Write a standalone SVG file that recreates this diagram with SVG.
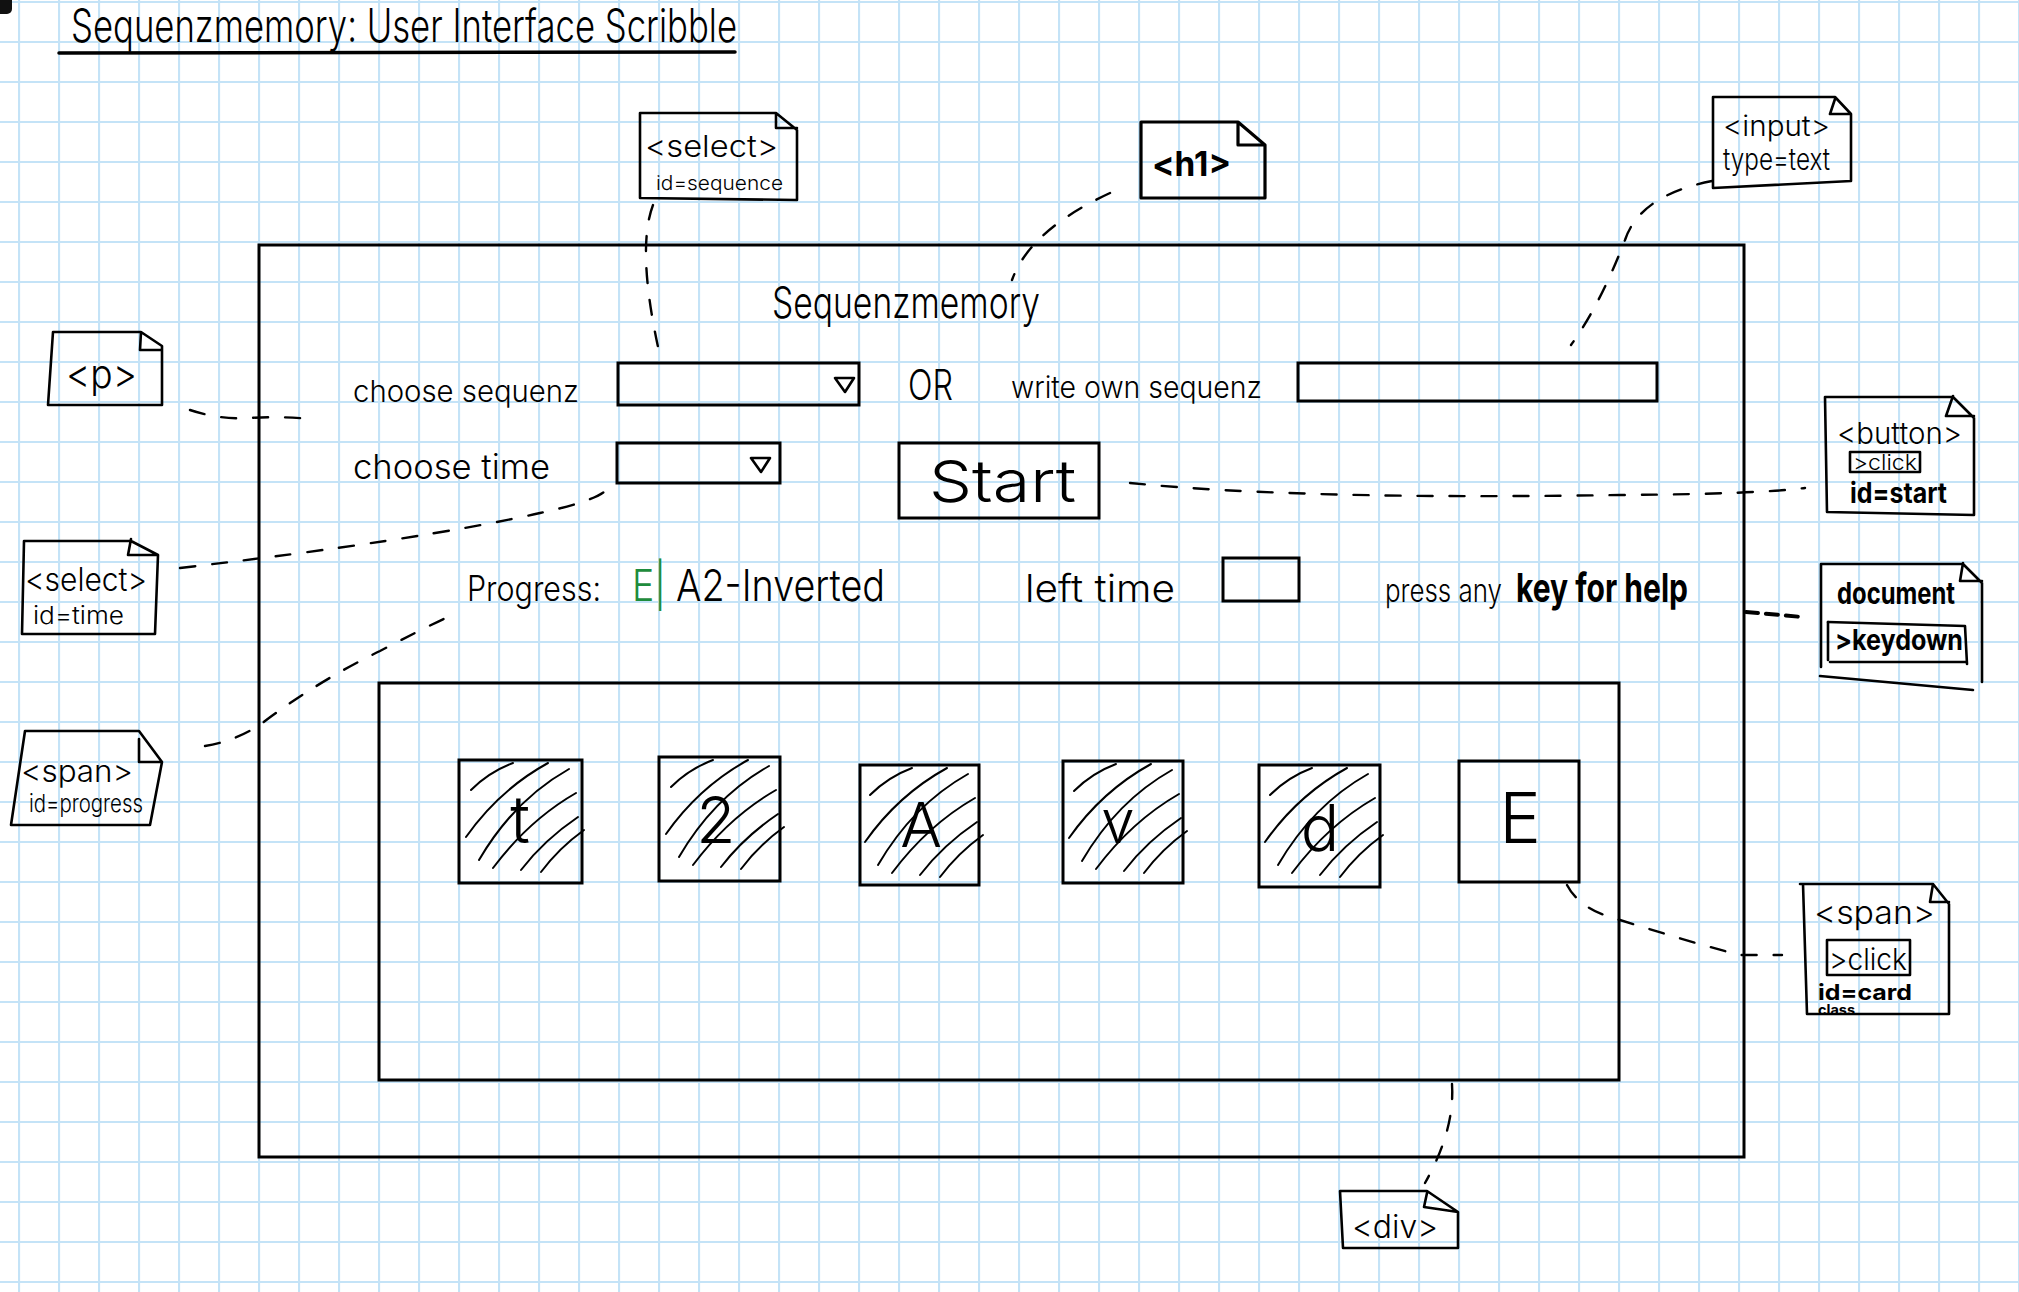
<svg xmlns="http://www.w3.org/2000/svg" width="2019" height="1292" viewBox="0 0 2019 1292">
<defs>
<pattern id="grid" patternUnits="userSpaceOnUse" x="18" y="1" width="40" height="40">
<rect width="40" height="40" fill="#ffffff"/>
<line x1="0" y1="1" x2="40" y2="1" stroke="#c4e3f7" stroke-width="2.2"/>
<line x1="1" y1="0" x2="1" y2="40" stroke="#c4e3f7" stroke-width="2.2"/>
</pattern>
<g id="hatch" fill="none" stroke="#000" stroke-width="2" stroke-linecap="round">
<path d="M12,30 Q30,12 54,3"/>
<path d="M7,77 Q40,30 89,3"/>
<path d="M20,100 Q55,40 110,9"/>
<path d="M34,108 Q70,60 117,33"/>
<path d="M62,110 Q85,80 119,57"/>
<path d="M82,112 Q100,88 125,70"/>
</g>
</defs>
<style>
.hw{font-family:Inter,"Liberation Sans",sans-serif;font-weight:300;fill:#000}
.hb{font-family:Inter,"Liberation Sans",sans-serif;font-weight:700;fill:#000}
.box{fill:none;stroke:#000;stroke-width:3;stroke-linejoin:miter}
.note{fill:none;stroke:#000;stroke-width:2.6;stroke-linejoin:round;stroke-linecap:round}
.dash{fill:none;stroke:#000;stroke-width:2.4;stroke-dasharray:15 17;stroke-linecap:round}
</style>
<rect width="2019" height="1292" fill="url(#grid)"/>
<rect x="-10" y="-10" width="22" height="24" rx="5" fill="#111"/>

<g id="title">
<text class="hw" x="71" y="42" font-size="46" textLength="666" lengthAdjust="spacingAndGlyphs">Sequenzmemory: User Interface Scribble</text>
<line x1="59" y1="53" x2="735" y2="52" stroke="#000" stroke-width="3.5" stroke-linecap="round"/>
</g>

<g id="frame">
<rect class="box" x="259" y="245" width="1485" height="912"/>
</g>

<g id="heading">
<text class="hw" x="772" y="318" font-size="44" textLength="268" lengthAdjust="spacingAndGlyphs">Sequenzmemory</text>
</g>

<g id="label-sequenz">
<text class="hw" x="353" y="402" font-size="30" textLength="226" lengthAdjust="spacingAndGlyphs">choose sequenz</text>
</g>
<g id="select-sequence">
<rect class="box" x="618" y="363" width="241" height="42"/>
<path class="note" d="M835,378 L854,378 L845,392 Z"/>
</g>
<g id="label-or">
<text class="hw" x="908" y="400" font-size="42" textLength="45" lengthAdjust="spacingAndGlyphs">OR</text>
</g>
<g id="label-write">
<text class="hw" x="1011" y="398" font-size="30" textLength="251" lengthAdjust="spacingAndGlyphs">write own sequenz</text>
</g>
<g id="input-text">
<rect class="box" x="1298" y="363" width="359" height="38"/>
</g>

<g id="label-time">
<text class="hw" x="353" y="479" font-size="34" textLength="197" lengthAdjust="spacingAndGlyphs">choose time</text>
</g>
<g id="select-time">
<rect class="box" x="617" y="443" width="163" height="40"/>
<path class="note" d="M751,458 L770,458 L761,472 Z"/>
</g>
<g id="start-button">
<rect class="box" x="899" y="443" width="200" height="75"/>
<text class="hw" x="929" y="502" font-size="58" textLength="147" lengthAdjust="spacingAndGlyphs">Start</text>
</g>

<g id="progress">
<text class="hw" x="467" y="601" font-size="35" textLength="134" lengthAdjust="spacingAndGlyphs">Progress:</text>
<text class="hw" y="601" font-size="44"><tspan x="632" style="fill:#1e8c3c" textLength="34" lengthAdjust="spacingAndGlyphs">E|</tspan><tspan x="676" textLength="209" lengthAdjust="spacingAndGlyphs">A2-Inverted</tspan></text>
</g>
<g id="left-time">
<text class="hw" x="1025" y="602" font-size="38" textLength="150" lengthAdjust="spacingAndGlyphs">left time</text>
<rect class="box" x="1223" y="558" width="76" height="43"/>
</g>
<g id="help">
<text class="hw" x="1385" y="602" font-size="32" textLength="117" lengthAdjust="spacingAndGlyphs">press any</text>
<text class="hb" x="1516" y="602" font-size="40" textLength="172" lengthAdjust="spacingAndGlyphs">key for help</text>
</g>

<g id="cards">
<rect class="box" x="379" y="683" width="1240" height="397"/>
<g id="card1">
<rect class="box" x="459" y="760" width="123" height="123"/>
<use href="#hatch" x="459" y="760"/>
<text class="hw" x="520" y="843" font-size="66" text-anchor="middle">t</text>
</g>
<g id="card2">
<rect class="box" x="659" y="757" width="121" height="124"/>
<use href="#hatch" x="659" y="757"/>
<text class="hw" x="716" y="843" font-size="64" text-anchor="middle">2</text>
</g>
<g id="card3">
<rect class="box" x="860" y="765" width="119" height="120"/>
<use href="#hatch" x="858" y="765"/>
<text class="hw" x="921" y="847" font-size="62" text-anchor="middle">A</text>
</g>
<g id="card4">
<rect class="box" x="1063" y="761" width="120" height="122"/>
<use href="#hatch" x="1062" y="761"/>
<text class="hw" x="1118" y="843" font-size="60" text-anchor="middle">v</text>
</g>
<g id="card5">
<rect class="box" x="1259" y="765" width="121" height="122"/>
<use href="#hatch" x="1258" y="765"/>
<text class="hw" x="1320" y="851" font-size="64" text-anchor="middle">d</text>
</g>
<g id="card6">
<rect class="box" x="1459" y="761" width="120" height="121"/>
<text class="hw" x="1520" y="843" font-size="70" text-anchor="middle">E</text>
</g>
</g>

<g id="note-select-sequence">
<path class="note" d="M640,113 H776 L797,130 V200 L640,198 Z M776,113 V128 H797"/>
<text class="hw" x="645" y="157" font-size="30" textLength="133" lengthAdjust="spacingAndGlyphs">&lt;select&gt;</text>
<text class="hw" x="656" y="190" font-size="20" textLength="127" lengthAdjust="spacingAndGlyphs">id=sequence</text>
</g>
<g id="note-h1">
<path class="note" style="stroke-width:3.2" d="M1141,122 H1238 L1265,145 V198 H1141 Z M1238,122 V145 H1265"/>
<text class="hb" x="1152" y="176" font-size="34" textLength="79" lengthAdjust="spacingAndGlyphs">&lt;h1&gt;</text>
</g>
<g id="note-input">
<path class="note" d="M1713,97 H1835 L1851,114 V181 L1713,188 Z M1835,99 L1830,114 H1851"/>
<text class="hw" x="1723" y="136" font-size="28" textLength="107" lengthAdjust="spacingAndGlyphs">&lt;input&gt;</text>
<text class="hw" x="1723" y="170" font-size="30" textLength="107" lengthAdjust="spacingAndGlyphs">type=text</text>
</g>
<g id="note-button">
<path class="note" d="M1825,397 H1953 L1974,418 V515 L1827,512 Z M1953,396 L1946,416 H1974"/>
<rect class="note" x="1850" y="452" width="70" height="20"/>
<text class="hw" x="1853" y="470" font-size="22" textLength="64" lengthAdjust="spacingAndGlyphs">&gt;click</text>
<text class="hb" x="1850" y="503" font-size="28" textLength="97" lengthAdjust="spacingAndGlyphs">id=start</text>
<text class="hw" x="1837" y="444" font-size="30" textLength="125" lengthAdjust="spacingAndGlyphs">&lt;button&gt;</text>
</g>
<g id="note-document">
<path class="note" d="M1821,564 V667 M1821,564 H1963 L1982,583 V682 M1963,563 L1960,581 H1982 M1820,676 L1973,690"/>
<path class="note" d="M1828,622 L1965,626 L1967,664 M1830,662 H1966"/>
<path class="note" d="M1828,622 V660"/>
<text class="hb" x="1837" y="604" font-size="30" textLength="118" lengthAdjust="spacingAndGlyphs">document</text>
<text class="hb" x="1835" y="650" font-size="28" textLength="128" lengthAdjust="spacingAndGlyphs">&gt;keydown</text>
</g>
<g id="note-span-card">
<path class="note" d="M1800,884 H1933 L1949,904 V1014 H1807 L1803,884 M1933,884 L1930,902 H1949"/>
<rect class="note" x="1827" y="940" width="83" height="35"/>
<text class="hw" x="1814" y="924" font-size="32" textLength="121" lengthAdjust="spacingAndGlyphs">&lt;span&gt;</text>
<text class="hw" x="1829" y="970" font-size="30" textLength="78" lengthAdjust="spacingAndGlyphs">&gt;click</text>
<text class="hb" x="1818" y="1000" font-size="22" textLength="94" lengthAdjust="spacingAndGlyphs">id=card</text>
<text class="hb" x="1818" y="1015" font-size="14" textLength="37" lengthAdjust="spacingAndGlyphs">class</text>
</g>
<g id="note-p">
<path class="note" d="M53,332 H141 L162,346 V405 H48 Z M141,332 L140,350 H162"/>
<text class="hw" x="66" y="388" font-size="40" textLength="71" lengthAdjust="spacingAndGlyphs">&lt;p&gt;</text>
</g>
<g id="note-select-time">
<path class="note" d="M24,541 H131 L158,555 L155,634 H22 Z M131,539 L128,555 H158"/>
<text class="hw" x="25" y="591" font-size="32" textLength="122" lengthAdjust="spacingAndGlyphs">&lt;select&gt;</text>
<text class="hw" x="33" y="624" font-size="24" textLength="91" lengthAdjust="spacingAndGlyphs">id=time</text>
</g>
<g id="note-span-progress">
<path class="note" d="M25,731 H139 L162,762 L150,825 H11 Z M139,739 V762 H162"/>
<text class="hw" x="21" y="782" font-size="30" textLength="112" lengthAdjust="spacingAndGlyphs">&lt;span&gt;</text>
<text class="hw" x="29" y="812" font-size="24" textLength="114" lengthAdjust="spacingAndGlyphs">id=progress</text>
</g>
<g id="note-div">
<path class="note" d="M1340,1191 H1427 L1458,1212 V1248 H1343 Z M1427,1193 L1424,1207 L1458,1212"/>
<text class="hw" x="1352" y="1238" font-size="32" textLength="86" lengthAdjust="spacingAndGlyphs">&lt;div&gt;</text>
</g>

<g id="connectors">
<path class="dash" d="M653,205 Q636,250 660,356"/>
<path class="dash" d="M1110,193 Q1030,230 1012,280"/>
<path class="dash" d="M1712,181 Q1640,195 1625,240 Q1600,305 1571,345"/>
<path class="dash" d="M1130,483 Q1300,500 1620,495 Q1760,494 1805,488"/>
<path class="dash" d="M180,568 Q420,540 540,513 Q600,500 608,488"/>
<path class="dash" d="M190,410 Q220,420 250,418 T310,419"/>
<path class="dash" d="M205,746 Q240,740 265,721 Q320,680 380,651 Q420,630 452,615"/>
<path class="dash" style="stroke-width:4;stroke-dasharray:12 8" d="M1746,612 L1802,617"/>
<path class="dash" d="M1567,885 Q1580,910 1620,920 Q1700,945 1740,955 L1782,955"/>
<path class="dash" d="M1452,1084 Q1455,1130 1425,1183"/>
</g>
</svg>
